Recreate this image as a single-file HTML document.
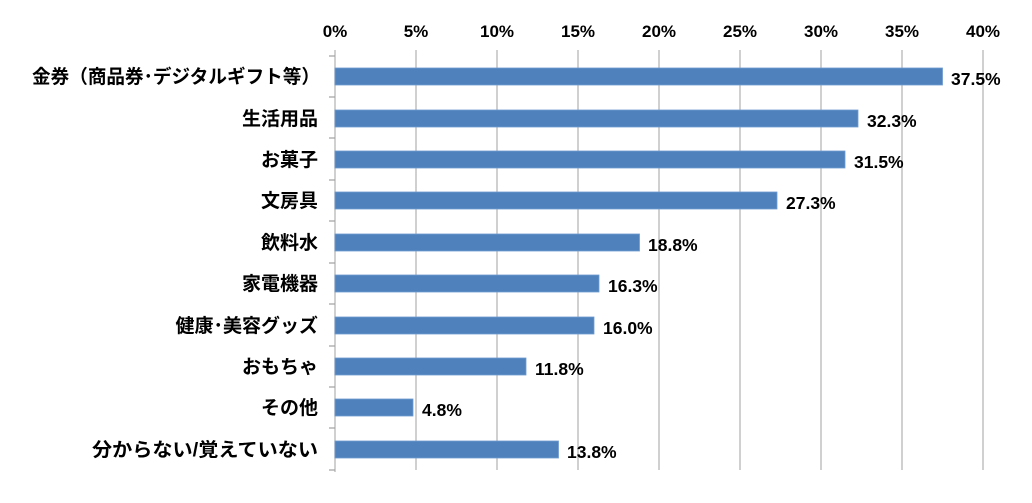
<!DOCTYPE html>
<html><head><meta charset="utf-8"><style>
body{margin:0;background:#fff;}
svg text{font-family:"Liberation Sans","Noto Sans CJK JP",sans-serif;font-weight:bold;fill:#000;}
</style></head><body>
<svg width="1032" height="498" xmlns="http://www.w3.org/2000/svg">
<g stroke="#c0c0c0" stroke-width="1.5">
<line x1="416" y1="50" x2="416" y2="470"/><line x1="497" y1="50" x2="497" y2="470"/>
<line x1="578" y1="50" x2="578" y2="470"/><line x1="659" y1="50" x2="659" y2="470"/>
<line x1="740" y1="50" x2="740" y2="470"/><line x1="821" y1="50" x2="821" y2="470"/>
<line x1="902" y1="50" x2="902" y2="470"/><line x1="983" y1="50" x2="983" y2="470"/>
<line x1="335" y1="50" x2="335" y2="472"/>
</g>
<g font-size="17" text-anchor="middle">
<text x="335" y="37">0%</text><text x="416" y="37">5%</text><text x="497" y="37">10%</text><text x="578" y="37">15%</text><text x="659" y="37">20%</text><text x="740" y="37">25%</text><text x="821" y="37">30%</text><text x="902" y="37">35%</text><text x="983" y="37">40%</text>
</g>
<g fill="#4f81bd" stroke="#6f9bd0" stroke-width="0.8">
<rect x="335" y="68" width="607.5" height="17"/>
<rect x="335" y="110" width="523" height="17"/>
<rect x="335" y="151" width="510" height="17"/>
<rect x="335" y="192" width="442" height="17"/>
<rect x="335" y="234" width="304.5" height="17"/>
<rect x="335" y="275" width="264" height="17"/>
<rect x="335" y="317" width="259" height="17"/>
<rect x="335" y="358" width="191" height="17"/>
<rect x="335" y="399" width="78" height="17"/>
<rect x="335" y="441" width="223.5" height="17"/>
</g>
<g font-size="17.5">
<text x="951" y="85">37.5%</text>
<text x="867" y="127">32.3%</text>
<text x="854" y="168">31.5%</text>
<text x="786" y="209">27.3%</text>
<text x="648" y="251">18.8%</text>
<text x="608" y="292">16.3%</text>
<text x="603" y="334">16.0%</text>
<text x="535" y="375">11.8%</text>
<text x="422" y="416">4.8%</text>
<text x="567" y="458">13.8%</text>
</g>
<g font-size="19" text-anchor="end">
<text x="320" y="83" textLength="288" lengthAdjust="spacingAndGlyphs">金券（商品券･デジタルギフト等）</text>
<text x="318" y="125">生活用品</text>
<text x="318" y="166">お菓子</text>
<text x="318" y="207">文房具</text>
<text x="318" y="249">飲料水</text>
<text x="318" y="290">家電機器</text>
<text x="318" y="332">健康･美容グッズ</text>
<text x="318" y="373">おもちゃ</text>
<text x="318" y="414">その他</text>
<text x="318" y="456" textLength="226" lengthAdjust="spacingAndGlyphs">分からない/覚えていない</text>
</g>
<g stroke="#a0a0a0" stroke-width="1.2">
<line x1="329" y1="56" x2="335" y2="56"/><line x1="329" y1="97" x2="335" y2="97"/><line x1="329" y1="138" x2="335" y2="138"/><line x1="329" y1="180" x2="335" y2="180"/><line x1="329" y1="221" x2="335" y2="221"/><line x1="329" y1="263" x2="335" y2="263"/><line x1="329" y1="304" x2="335" y2="304"/><line x1="329" y1="346" x2="335" y2="346"/><line x1="329" y1="387" x2="335" y2="387"/><line x1="329" y1="428" x2="335" y2="428"/><line x1="329" y1="470" x2="335" y2="470"/>
</g>
</svg>
</body></html>
